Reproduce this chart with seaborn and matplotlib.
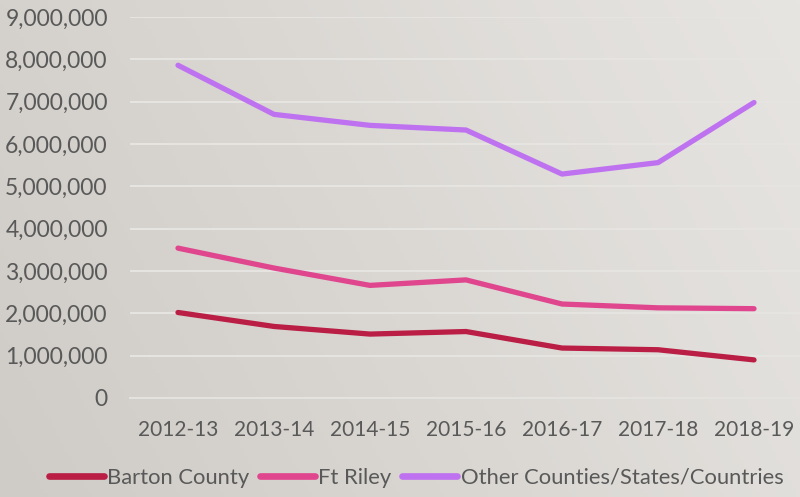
import numpy as np
import pandas as pd
import matplotlib
matplotlib.use("Agg")
import matplotlib.pyplot as plt
import seaborn as sns
from matplotlib.ticker import FuncFormatter, FixedLocator

years = ["2012-13", "2013-14", "2014-15", "2015-16", "2016-17", "2017-18", "2018-19"]
barton = [2020000, 1690000, 1510000, 1570000, 1180000, 1140000, 900000]
ft_riley = [3540000, 3070000, 2660000, 2790000, 2220000, 2130000, 2110000]
other = [7860000, 6700000, 6440000, 6330000, 5290000, 5560000, 6980000]
series_names = ["Barton County", "Ft Riley", "Other Counties/States/Countries"]
colors = ["#BA1E45", "#E0468E", "#BE72F0"]

df = pd.DataFrame({
    "year": years * 3,
    "value": barton + ft_riley + other,
    "series": [series_names[0]] * 7 + [series_names[1]] * 7 + [series_names[2]] * 7,
})

sns.set_style("white")
plt.rcParams["font.family"] = ["Lato", "DejaVu Sans"]

fig = plt.figure(figsize=(8, 4.97), dpi=100)

# background gradient
bg = fig.add_axes([0, 0, 1, 1], zorder=-10)
gx, gy = np.meshgrid(np.linspace(0, 1, 200), np.linspace(0, 1, 120))
t = np.clip(0.75 * gx + 0.25 * gy, 0, 1)
c0 = np.array([0xCF, 0xCB, 0xC6]) / 255
c1 = np.array([0xE7, 0xE5, 0xE2]) / 255
img = c0[None, None, :] * (1 - t[..., None]) + c1[None, None, :] * t[..., None]
bg.imshow(img, aspect="auto", extent=[0, 1, 0, 1], origin="lower")
bg.axis("off")

ax = fig.add_axes([130 / 800, 1 - 398 / 497, 672 / 800, (398 - 17) / 497])
ax.set_facecolor("none")

sns.lineplot(data=df, x="year", y="value", hue="series", palette=colors,
             linewidth=3.8, ax=ax, sort=False, legend=True)
for ln in ax.get_lines():
    ln.set_solid_capstyle("round")
    ln.set_solid_joinstyle("round")

ax.set_xlim(-0.5, 6.5)
ax.set_ylim(0, 9000000)
ax.yaxis.set_major_locator(FixedLocator(np.arange(0, 9000001, 1000000)))
ax.yaxis.set_major_formatter(FuncFormatter(lambda v, p: f"{int(v):,}"))
ax.grid(axis="y", color="#E6E4E1", linewidth=1.5)
ax.grid(axis="x", visible=False)
for s in ["top", "right", "left"]:
    ax.spines[s].set_visible(False)
ax.spines["bottom"].set_color("#E4E2DF")
ax.spines["bottom"].set_linewidth(1.5)
ax.set_axisbelow(True)

ax.tick_params(axis="y", length=0, pad=16, labelsize=16.5, labelcolor="#595959")
ax.tick_params(axis="x", which="major", length=0, pad=16, labelsize=15, labelcolor="#595959")
ax.set_xticks(range(7))
ax.set_xticks(np.arange(-0.5, 7, 1), minor=True)
ax.tick_params(axis="x", which="minor", length=6, width=1.5, color="#E4E2DF", direction="out")
ax.set_xlabel("")
ax.set_ylabel("")

handles, labels = ax.get_legend_handles_labels()
ax.legend_.remove()
for h in handles:
    h.set_linewidth(4.8)
    h.set_solid_capstyle("round")
leg = fig.legend(handles, labels, loc="center", bbox_to_anchor=(416 / 800, 1 - 478 / 497),
                 ncol=3, frameon=False, fontsize=15.8, handlelength=2.5, handletextpad=0.15,
                 columnspacing=0.5, borderaxespad=0)
for tx in leg.get_texts():
    tx.set_color("#595959")

fig.savefig("out.png", dpi=100)
